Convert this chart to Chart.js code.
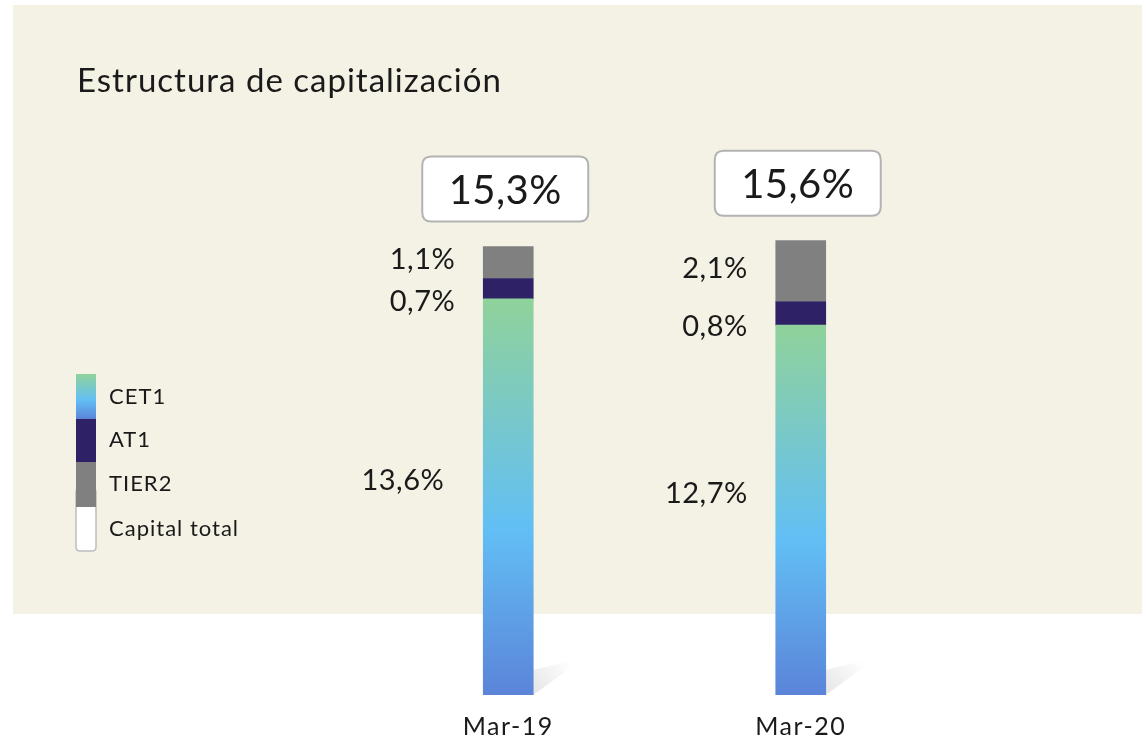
<!DOCTYPE html>
<html>
<head>
<meta charset="utf-8">
<script src="https://cdn.jsdelivr.net/npm/chart.js@4.4.1/dist/chart.umd.min.js"></script>
<style>
  html, body { margin: 0; padding: 0; background: #ffffff; }
  #chart { display: block; }
</style>
</head>
<body>
<canvas id="chart" width="1142" height="740"></canvas>
<script>
var categories = ['Mar-19', 'Mar-20'];
var cet1 = [13.6, 12.7];
var at1 = [0.7, 0.8];
var tier2 = [1.1, 2.1];
var totals = [15.3, 15.6];
var legendLabels = ['CET1', 'AT1', 'TIER2', 'Capital total'];
var chartTitle = 'Estructura de capitalización';

var FONT = 'Lato, "Open Sans", sans-serif';
var panelColor = '#F4F2E4';
var at1Color = '#2E2166';
var tier2Color = '#808080';

function fmt(v) {
    return v.toFixed(1).replace('.', ',') + '%';
}

function cetGradient(ctx, top, bottom) {
    var g = ctx.createLinearGradient(0, top, 0, bottom);
    g.addColorStop(0, '#90D29B');
    g.addColorStop(0.58, '#62BFF5');
    g.addColorStop(1, '#5B84D9');
    return g;
}

function roundRect(ctx, x, y, w, h, r) {
    ctx.beginPath();
    ctx.moveTo(x + r, y);
    ctx.lineTo(x + w - r, y);
    ctx.quadraticCurveTo(x + w, y, x + w, y + r);
    ctx.lineTo(x + w, y + h - r);
    ctx.quadraticCurveTo(x + w, y + h, x + w - r, y + h);
    ctx.lineTo(x + r, y + h);
    ctx.quadraticCurveTo(x, y + h, x, y + h - r);
    ctx.lineTo(x, y + r);
    ctx.quadraticCurveTo(x, y, x + r, y);
    ctx.closePath();
}

// beige panel, title and legend
var backdrop = {
    id: 'backdrop',
    beforeDraw: function(chart) {
        var ctx = chart.ctx;
        ctx.save();
        ctx.fillStyle = panelColor;
        ctx.fillRect(13, 5, chart.width - 13, 609);

        ctx.fillStyle = '#1a1a1a';
        ctx.font = '33px ' + FONT;
        ctx.letterSpacing = '1px';
        ctx.textBaseline = 'middle';
        ctx.textAlign = 'left';
        ctx.fillText(chartTitle, 77, 81);

        // legend swatches stacked into one column
        var lx = 76, lw = 20;
        ctx.fillStyle = '#ffffff';
        ctx.strokeStyle = '#bdbdbd';
        ctx.lineWidth = 1.5;
        roundRect(ctx, lx, 488, lw, 63, 4);
        ctx.fill();
        ctx.stroke();
        ctx.fillStyle = tier2Color;
        ctx.fillRect(lx, 462, lw, 45);
        ctx.fillStyle = at1Color;
        ctx.fillRect(lx, 419, lw, 43);
        ctx.fillStyle = cetGradient(ctx, 374, 419);
        ctx.fillRect(lx, 374, lw, 45);

        ctx.fillStyle = '#1a1a1a';
        ctx.font = '22px ' + FONT;
        ctx.letterSpacing = '1px';
        var ly = [397, 440, 484, 529];
        legendLabels.forEach(function(t, i) {
            ctx.fillText(t, 109, ly[i]);
        });
        ctx.restore();
        // wider spacing for the axis labels, reset before the bars
        ctx.letterSpacing = '1.5px';
    },
    beforeDatasetsDraw: function(chart) {
        // soft shadow falling to the right of each bar foot
        var ctx = chart.ctx;
        ctx.letterSpacing = '0px';
        var meta = chart.getDatasetMeta(0);
        ctx.save();
        meta.data.forEach(function(bar) {
            var r = bar.x + bar.width / 2;
            var b = bar.base;
            var g = ctx.createLinearGradient(r, b, r + 40, b - 30);
            g.addColorStop(0, 'rgba(0,0,0,0.10)');
            g.addColorStop(1, 'rgba(0,0,0,0)');
            ctx.fillStyle = g;
            ctx.beginPath();
            ctx.moveTo(r, b);
            ctx.lineTo(r, b - 25);
            ctx.lineTo(r + 52, b - 38);
            ctx.closePath();
            ctx.fill();
        });
        ctx.restore();
    }
};

// segment values and total boxes
var valueLabels = {
    id: 'valueLabels',
    afterDatasetsDraw: function(chart) {
        var ctx = chart.ctx;
        var offsets = [-16, 13, -3];
        ctx.save();
        ctx.fillStyle = '#1a1a1a';
        ctx.textBaseline = 'middle';
        ctx.letterSpacing = '0.5px';
        chart.data.datasets.forEach(function(ds, di) {
            var meta = chart.getDatasetMeta(di);
            meta.data.forEach(function(bar, i) {
                var mid = (bar.y + bar.base) / 2 + offsets[di];
                var gap = (di === 0 && i === 0) ? 39 : 28;
                ctx.font = '29px ' + FONT;
                ctx.textAlign = 'right';
                ctx.fillText(fmt(ds.data[i]), bar.x - bar.width / 2 - gap, mid);
            });
        });

        var top = chart.getDatasetMeta(chart.data.datasets.length - 1);
        top.data.forEach(function(bar, i) {
            var bw = 166, bh = 65;
            var bx = bar.x - 3 - bw / 2;
            var by = bar.y - 25 - bh;
            ctx.fillStyle = '#ffffff';
            ctx.strokeStyle = '#b3b3b3';
            ctx.lineWidth = 2;
            roundRect(ctx, bx, by, bw, bh, 9);
            ctx.fill();
            ctx.stroke();
            ctx.fillStyle = '#1a1a1a';
            ctx.font = '40px ' + FONT;
            ctx.textAlign = 'center';
            ctx.fillText(fmt(totals[i]), bx + bw / 2, by + bh / 2 + 2);
        });
        ctx.restore();
    }
};

var ctx = document.getElementById('chart').getContext('2d');

var chart = new Chart(ctx, {
    type: 'bar',
    data: {
        labels: categories,
        datasets: [
            {
                label: 'CET1',
                data: cet1,
                backgroundColor: function(c) {
                    var ch = c.chart;
                    if (!ch.chartArea || !ch.scales.y) return '#62BFF5';
                    var y = ch.scales.y;
                    return cetGradient(ch.ctx, y.getPixelForValue(cet1[c.dataIndex]), y.getPixelForValue(0));
                }
            },
            { label: 'AT1', data: at1, backgroundColor: at1Color },
            { label: 'TIER2', data: tier2, backgroundColor: tier2Color }
        ]
    },
    options: {
        responsive: false,
        animation: false,
        events: [],
        layout: {
            padding: { left: 362, right: 195, top: 229, bottom: 0 }
        },
        datasets: {
            bar: { barThickness: 50, borderWidth: 0 }
        },
        scales: {
            x: {
                stacked: true,
                grid: { display: false, drawTicks: false },
                border: { display: false },
                ticks: {
                    color: '#1a1a1a',
                    padding: 17,
                    font: { family: FONT, size: 25 }
                },
                afterFit: function(scale) { scale.height = 45; }
            },
            y: {
                stacked: true,
                display: false,
                min: 0,
                max: 16
            }
        },
        plugins: {
            legend: { display: false },
            tooltip: { enabled: false }
        }
    },
    plugins: [backdrop, valueLabels]
});
</script>
</body>
</html>
